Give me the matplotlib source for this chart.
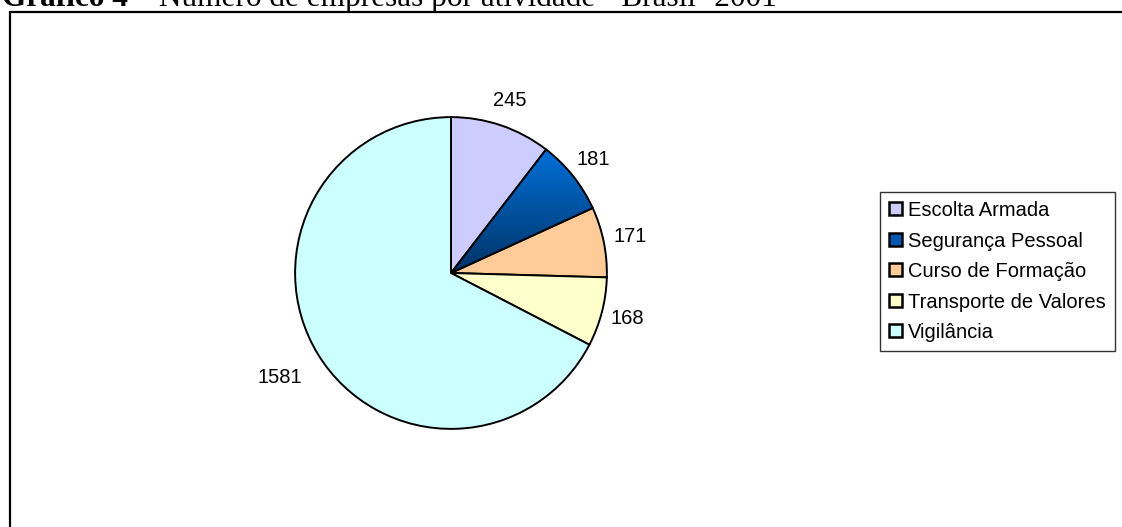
import numpy as np
import matplotlib.pyplot as plt
import matplotlib
from matplotlib.patches import Rectangle, Patch
from matplotlib.colors import LinearSegmentedColormap

matplotlib.rcParams.update({
    "font.family": ["Liberation Sans", "DejaVu Sans"],
})

# dados
atividades = ["Escolta Armada", "Segurança Pessoal", "Curso de Formação",
              "Transporte de Valores", "Vigilância"]
empresas = [245, 181, 171, 168, 1581]
cores = ["#CCCCFF", "#0058B0", "#FFCC99", "#FFFFCC", "#CCFFFF"]
titulo_neg = "Gráfico 4 –"
titulo = " Número de empresas por atividade - Brasil- 2001"

W, H = 1122, 527
fig = plt.figure(figsize=(W / 100, H / 100), dpi=100)

# moldura do gráfico (aberta à direita e embaixo)
fig.patches.append(Rectangle((10 / W, -0.1), 1.2, (H - 12) / H + 0.1,
                             transform=fig.transFigure, fill=False,
                             edgecolor="black", linewidth=1.6))

# título cortado no topo
t = fig.text(2 / W, (H - 6) / H, titulo_neg, fontsize=22.5, fontweight="bold",
             family=["Liberation Serif"], va="baseline", ha="left")
fig.canvas.draw()
bb = t.get_window_extent()
fig.text(bb.x1 / W, (H - 6) / H, titulo, fontsize=22.5,
         family=["Liberation Serif"], va="baseline", ha="left")

# pizza
cx, cy, r = 451, H - 273, 159
ax = fig.add_axes([(cx - r) / W, (cy - r) / H, 2 * r / W, 2 * r / H])
wedges, textos = ax.pie(empresas, colors=cores, startangle=90, counterclock=False,
                        labels=[str(v) for v in empresas], labeldistance=1.17,
                        wedgeprops=dict(edgecolor="black", linewidth=1.4),
                        textprops=dict(fontsize=14.5))
for tx in textos:
    tx.set_ha("center")
# rótulo do maior setor um pouco mais afastado
x, y = textos[4].get_position()
textos[4].set_position((x * 1.1, y * 1.1))

ax.set_xlim(-1, 1)
ax.set_ylim(-1, 1)

# degradê no setor de Segurança Pessoal
w = wedges[1]
ext = w.get_path().get_extents()
grad = np.linspace(0, 1, 256).reshape(-1, 1)
cmap = LinearSegmentedColormap.from_list("seg", ["#0070D8", "#003366"])
im = ax.imshow(grad, extent=[ext.x0, ext.x1, ext.y0, ext.y1], cmap=cmap,
               aspect="auto", origin="upper", zorder=w.get_zorder() + 0.1)
im.set_clip_path(w)
w.set_facecolor("none")
w.set_zorder(w.get_zorder() + 0.2)
ax.set_xlim(-1.02, 1.02)
ax.set_ylim(-1.02, 1.02)
ax.set_aspect("equal")

# legenda
handles = [Patch(facecolor=c, edgecolor="black", linewidth=1.8, label=a)
           for c, a in zip(cores, atividades)]
leg = fig.legend(handles=handles, loc="upper left",
                 bbox_to_anchor=(880 / W, (H - 192) / H),
                 fontsize=14.5, frameon=True, fancybox=False,
                 handlelength=0.62, handleheight=0.62, handletextpad=0.33,
                 labelspacing=0.57, borderpad=0.45, borderaxespad=0)
leg.get_frame().set_edgecolor("black")
leg.get_frame().set_linewidth(1.0)

plt.savefig("out.png", dpi=100)
